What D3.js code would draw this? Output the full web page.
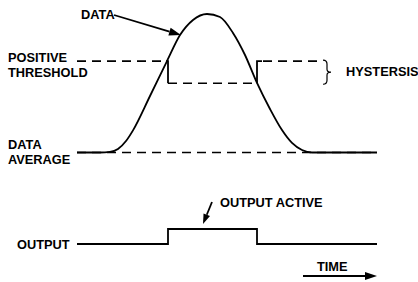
<!DOCTYPE html>
<html lang="en">
<head>
<meta charset="UTF-8">
<title>Hysteresis comparator timing</title>
<script src="https://d3js.org/d3.v7.min.js"></script>
<style>
  body { margin: 0; background: #fff; }
  text { font-family: "Liberation Sans", Arial, sans-serif; font-weight: bold; font-size: 12.8px; fill: #000; }
  .dash { fill: none; stroke: #000; stroke-width: 1.6; stroke-dasharray: 9 6; }
  .solid { fill: none; stroke: #000; stroke-width: 1.8; }
</style>
</head>
<body>
<div id="chart"></div>
<script>
// data signal (time units 0..300, value units 0..100)
const dataTime  = [0, 23, 33, 41, 49, 56, 73, 90, 103, 116, 130, 143, 156, 168, 180, 193, 205, 215, 225, 235, 300];
const dataValue = [0, 0, 0.4, 2.5, 8.3, 16, 40.8, 66, 84.8, 95.7, 100, 97.8, 86.3, 70.4, 50.2, 31.4, 16.2, 6.9, 1.8, 0, 0];
const average = 0;
const upperThreshold = 66;
const lowerThreshold = 50;
// comparator switch points and output levels
const switchTime = [0, 91, 180, 300];
const outputLevel = [0, 1, 0];

const width = 418, height = 282;
const x = d3.scaleLinear().domain([0, 300]).range([77, 377]);
const y = d3.scaleLinear().domain([0, 100]).range([152.5, 14]);
const yOut = d3.scaleLinear().domain([0, 1]).range([244, 229]);

const svg = d3.select("#chart").append("svg")
  .attr("width", width).attr("height", height);

// average line (dashed)
svg.append("line").attr("class", "dash")
  .attr("x1", x(0)).attr("x2", x(300))
  .attr("y1", y(average)).attr("y2", y(average));

// threshold, switching between upper and lower at the crossings
const thrLevels = [upperThreshold, lowerThreshold, upperThreshold];
const thrEnd = [90, 180, 240];
thrLevels.forEach((lv, i) => {
  svg.append("line").attr("class", "dash")
    .attr("x1", x(switchTime[i])).attr("x2", x(thrEnd[i]))
    .attr("y1", y(lv)).attr("y2", y(lv))
    .attr("stroke-dashoffset", i === 2 ? -6 : 0);
});
// solid step at switch points
[1, 2].forEach(i => {
  svg.append("path").attr("class", "solid").attr("stroke-width", 1.5)
    .attr("d", d3.line()([
      [x(switchTime[i]) + (i === 2 ? 5 : 0), y(thrLevels[i])],
      [x(switchTime[i]), y(thrLevels[i])],
      [x(switchTime[i]), y(thrLevels[i - 1])],
      [x(switchTime[i]) - (i === 1 ? 2 : 0), y(thrLevels[i - 1])]
    ]));
});

// data curve
svg.append("path").attr("class", "solid")
  .datum(dataTime.map((t, i) => [t, dataValue[i]]))
  .attr("d", d3.line().x(d => x(d[0])).y(d => y(d[1])).curve(d3.curveMonotoneX));

// output step
const outPts = [];
outputLevel.forEach((lv, i) => {
  outPts.push([x(switchTime[i]), yOut(lv)]);
  outPts.push([x(switchTime[i + 1]), yOut(lv)]);
});
svg.append("path").attr("class", "solid").attr("d", d3.line()(outPts));

// arrow helper
function arrow(x1, y1, x2, y2, len, half) {
  const a = Math.atan2(y2 - y1, x2 - x1);
  const bx = x2 - len * Math.cos(a), by = y2 - len * Math.sin(a);
  svg.append("line").attr("class", "solid").attr("stroke-width", 1.5)
    .attr("x1", x1).attr("y1", y1).attr("x2", bx).attr("y2", by);
  svg.append("path").attr("fill", "#000")
    .attr("d", d3.line()([
      [x2, y2],
      [bx + half * Math.sin(a), by - half * Math.cos(a)],
      [bx - half * Math.sin(a), by + half * Math.cos(a)]
    ]) + "Z");
}
arrow(114, 15, x(103) + 1, y(84.8), 12, 4);
arrow(212, 202, 203, 224, 10, 3.5);
arrow(303, 276, 377, 276, 12, 4);

// hysteresis brace
const braceX = 323, braceTop = y(upperThreshold) - 1, braceBot = y(lowerThreshold) + 1;
const braceMid = (braceTop + braceBot) / 2;
svg.append("path").attr("fill", "none").attr("stroke", "#000").attr("stroke-width", 1.2)
  .attr("d", `M${braceX},${braceTop} Q${braceX + 4},${braceTop} ${braceX + 4},${braceTop + 4}
              L${braceX + 4},${braceMid - 3} Q${braceX + 4},${braceMid} ${braceX + 8},${braceMid}
              Q${braceX + 4},${braceMid} ${braceX + 4},${braceMid + 3}
              L${braceX + 4},${braceBot - 4} Q${braceX + 4},${braceBot} ${braceX},${braceBot}`);

// labels
const labels = [
  ["DATA", 81, 19],
  ["POSITIVE", 8, 62], ["THRESHOLD", 8, 76.5],
  ["HYSTERSIS", 346, 76],
  ["DATA", 8, 149], ["AVERAGE", 8, 163.5],
  ["OUTPUT", 17, 249],
  ["OUTPUT ACTIVE", 220, 207],
  ["TIME", 317, 271]
];
svg.selectAll("text.lbl").data(labels).join("text").attr("class", "lbl")
  .attr("x", d => d[1]).attr("y", d => d[2]).text(d => d[0]);
</script>
</body>
</html>
